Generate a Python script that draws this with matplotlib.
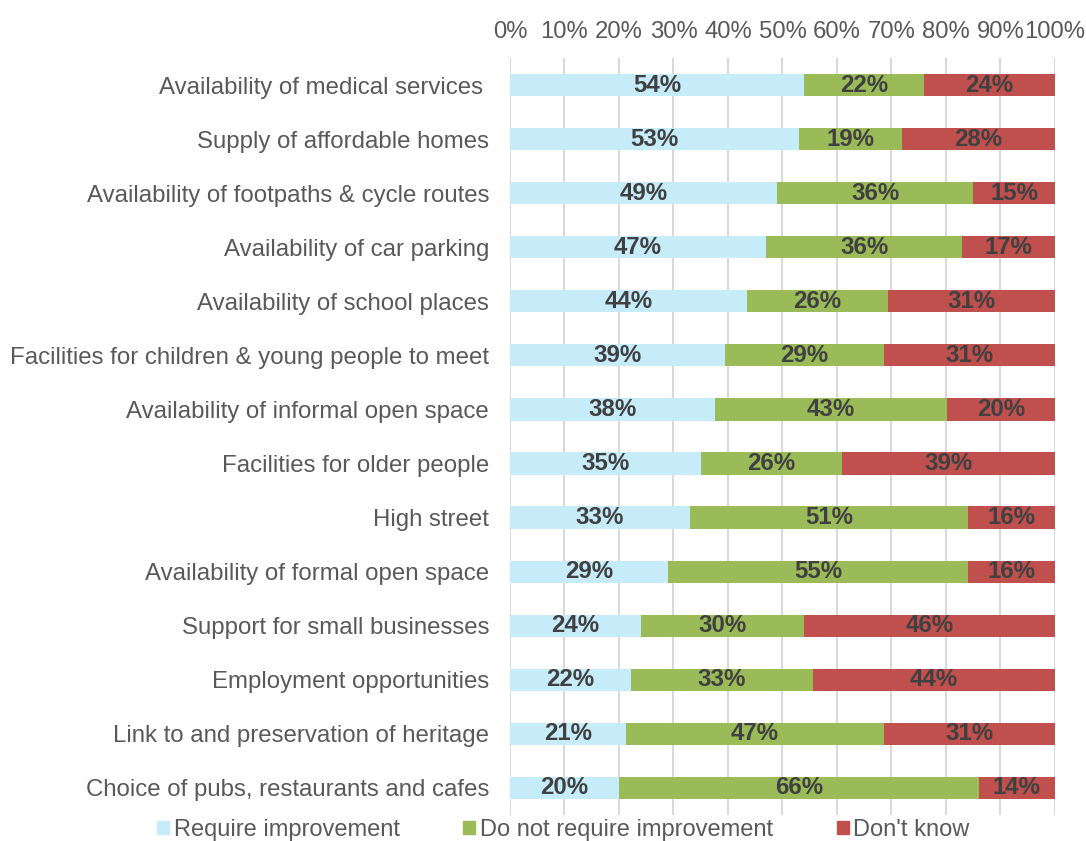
import matplotlib
matplotlib.use("Agg")
import matplotlib.pyplot as plt
import matplotlib.patches as mpatches
import numpy as np

plt.rcParams['font.family'] = ['Liberation Sans', 'DejaVu Sans']

categories = [
    "Availability of medical services ",
    "Supply of affordable homes",
    "Availability of footpaths & cycle routes",
    "Availability of car parking",
    "Availability of school places",
    "Facilities for children & young people to meet",
    "Availability of informal open space",
    "Facilities for older people",
    "High street",
    "Availability of formal open space",
    "Support for small businesses",
    "Employment opportunities",
    "Link to and preservation of heritage",
    "Choice of pubs, restaurants and cafes",
]
require = [54, 53, 49, 47, 44, 39, 38, 35, 33, 29, 24, 22, 21, 20]
not_require = [22, 19, 36, 36, 26, 29, 43, 26, 51, 55, 30, 33, 47, 66]
dont_know = [24, 28, 15, 17, 31, 31, 20, 39, 16, 16, 46, 44, 31, 14]
series_names = ["Require improvement", "Do not require improvement", "Don't know"]
colors = ['#C6EBF9', '#9BBB59', '#C0504D']

data = np.array([require, not_require, dont_know], dtype=float)
shares = data / data.sum(axis=0)

fig = plt.figure(figsize=(10.86, 8.41), dpi=100)
ax = fig.add_axes([0.4696, 0.031, 0.5018, 0.9])

y = np.arange(len(categories))
left = np.zeros(len(categories))
for i in range(3):
    ax.barh(y, shares[i], left=left, height=0.41, color=colors[i], zorder=3)
    for j in range(len(categories)):
        ax.text(left[j] + shares[i][j] / 2, y[j], "%d%%" % data[i][j],
                ha='center', va='center', fontsize=17.3, fontweight='bold',
                color='#404040', zorder=4)
    left += shares[i]

ax.set_xlim(0, 1)
ax.set_ylim(len(categories) - 0.5, -0.5)
ax.set_xticks(np.arange(0, 1.01, 0.1))
ax.set_xticklabels(["%d%%" % v for v in range(0, 101, 10)])
ax.xaxis.tick_top()
ax.tick_params(axis='x', length=0, labelsize=17.2, labelcolor='#595959', pad=11)
ax.set_yticks(y)
ax.set_yticklabels(categories)
ax.tick_params(axis='y', length=0, labelsize=17.3, labelcolor='#595959', pad=15)
ax.grid(axis='x', color='#D9D9D9', linewidth=1.5, zorder=0)
for s in ax.spines.values():
    s.set_visible(False)

patches = [mpatches.Patch(color=colors[i], label=series_names[i]) for i in range(3)]
fig.legend(handles=patches, loc='center left', bbox_to_anchor=(0.1446, 0.0135), ncol=3,
           frameon=False, fontsize=17, labelcolor='#595959', handlelength=0.5,
           handleheight=0.5, handletextpad=0.2, columnspacing=2.7,
           borderpad=0, borderaxespad=0)

fig.savefig("out.png", dpi=100)
